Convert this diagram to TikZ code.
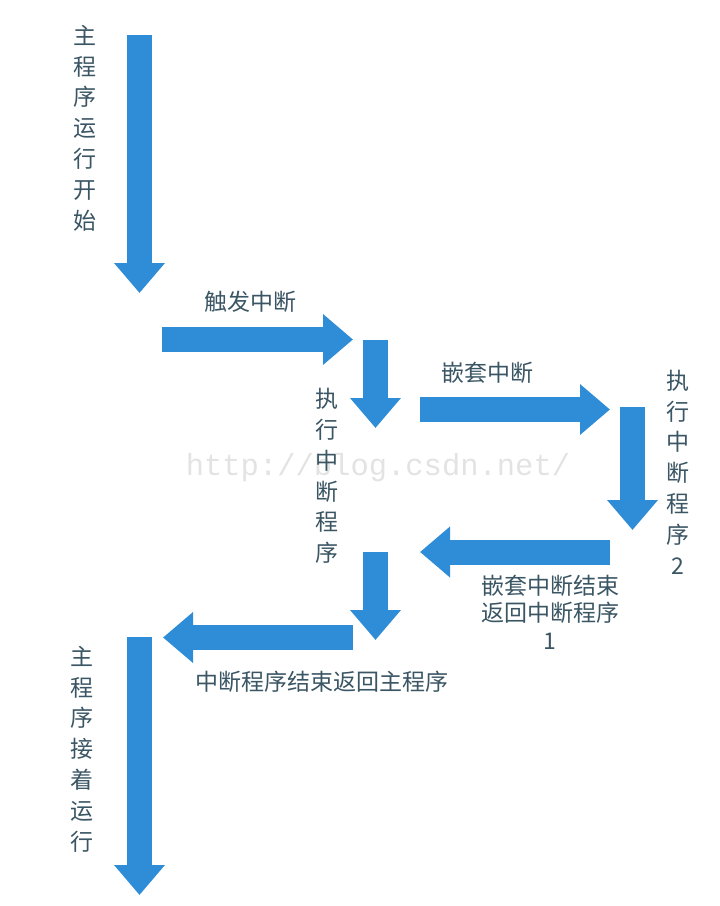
\documentclass[tikz,border=0pt]{standalone}
\usepackage{fontspec}
\usepackage{tikz}
\usetikzlibrary{arrows.meta}
\newfontfamily\cjk{Noto Sans CJK SC}
\definecolor{flowblue}{HTML}{2E8DD6}
\definecolor{labelgray}{HTML}{3A5563}

\begin{document}
\begin{tikzpicture}[x=1pt, y=-1pt,
    flow/.style={line width=25pt, flowblue, -{Triangle[length=30pt,width=49pt]}},
    lbl/.style={text=labelgray, inner sep=0pt, font=\cjk\fontsize{23}{26}\selectfont},
    vlbl/.style={lbl, align=center, font=\cjk\fontsize{23}{30.8}\selectfont}]
        \useasboundingbox (0,0) rectangle (720,906);
        % watermark
        \node[text=black!11, font=\fontspec{Liberation Mono}\fontsize{30.5}{30.5}\selectfont] (wm) at (378,468) {http://blog.csdn.net/};

        % main program starts
        \coordinate (m1) at (139.5,35);
        \coordinate (m2) at (139.5,293);
        \draw[flow] (m1) -- (m2);
        \node[vlbl] (mainstart) at (85,128) {主\\程\\序\\运\\行\\开\\始};

        % interrupt triggered
        \coordinate (t1) at (162,339.5);
        \coordinate (t2) at (353,339.5);
        \draw[flow] (t1) -- (t2);
        \node[lbl] (trig) at (250,302) {触发中断};

        \coordinate (i1) at (375.5,340);
        \coordinate (i2) at (375.5,428);
        \draw[flow] (i1) -- (i2);
        \node[vlbl] (isr) at (327,476) {执\\行\\中\\断\\程\\序};

        % nested interrupt
        \coordinate (n1) at (420,409.5);
        \coordinate (n2) at (610,409.5);
        \draw[flow] (n1) -- (n2);
        \node[lbl] (nest) at (487,373) {嵌套中断};

        \coordinate (j1) at (632.5,407);
        \coordinate (j2) at (632.5,530);
        \draw[flow] (j1) -- (j2);
        \node[vlbl] (isrtwo) at (678,472) {执\\行\\中\\断\\程\\序\\2};

        % back to first handler
        \coordinate (r1) at (610,552);
        \coordinate (r2) at (420,552);
        \draw[flow] (r1) -- (r2);
        \node[lbl, align=center, font=\cjk\fontsize{23}{27.5}\selectfont] (nestend) at (550,612) {嵌套中断结束\\返回中断程序\\1};

        \coordinate (k1) at (375.5,552);
        \coordinate (k2) at (375.5,640);
        \draw[flow] (k1) -- (k2);

        % back to main program
        \coordinate (b1) at (353,637.5);
        \coordinate (b2) at (163,637.5);
        \draw[flow] (b1) -- (b2);
        \node[lbl] (isrend) at (322,682) {中断程序结束返回主程序};

        \coordinate (e1) at (139.5,637);
        \coordinate (e2) at (139.5,895);
        \draw[flow] (e1) -- (e2);
        \node[vlbl] (mainon) at (82,749) {主\\程\\序\\接\\着\\运\\行};
    \end{tikzpicture}
\end{document}
